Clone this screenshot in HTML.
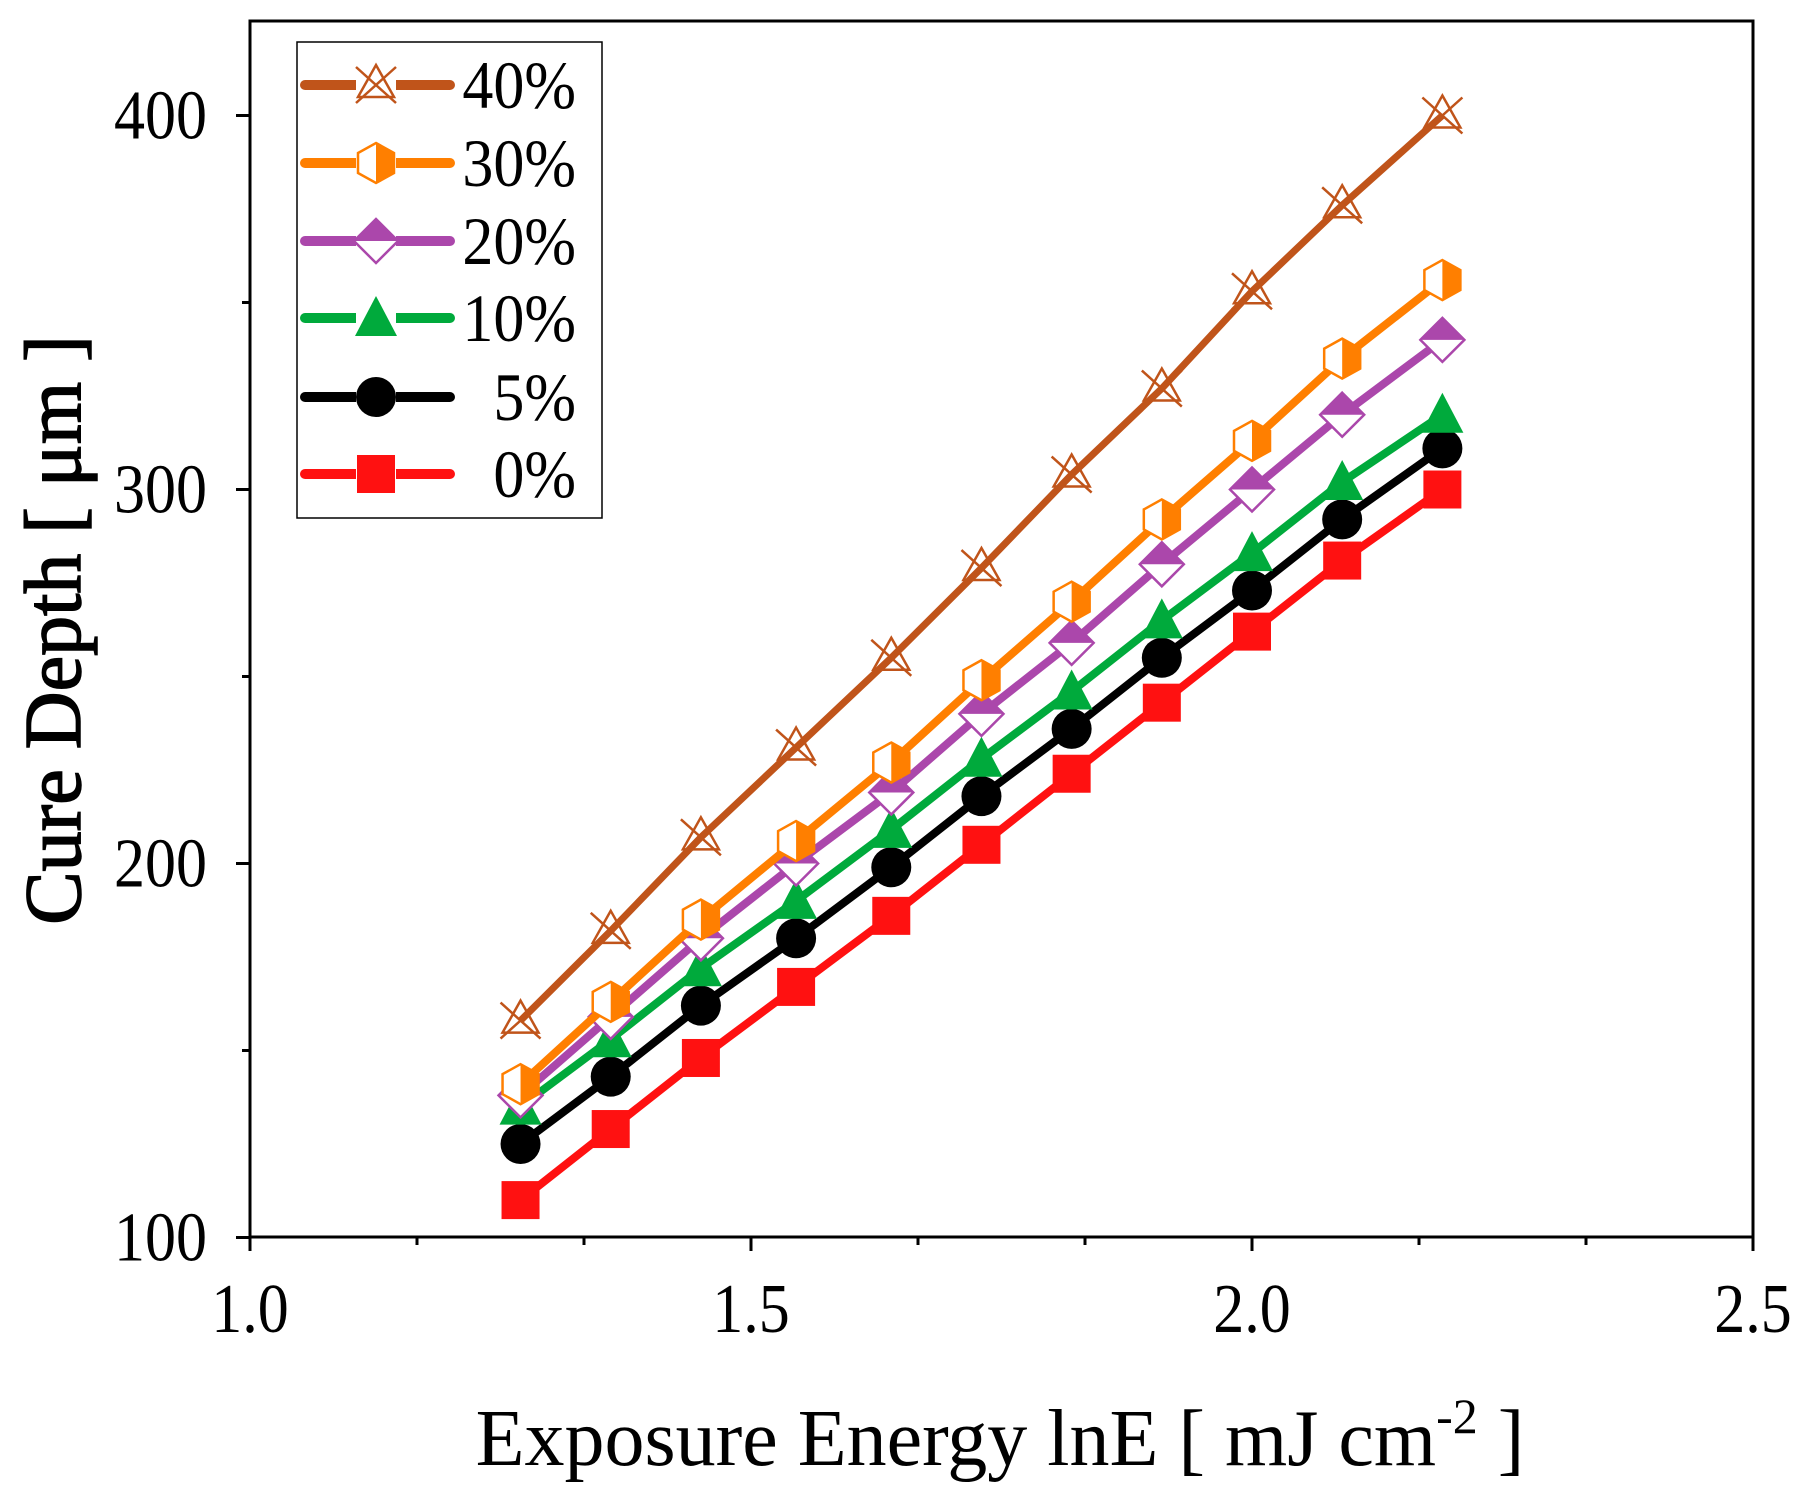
<!DOCTYPE html>
<html><head><meta charset="utf-8"><style>
html,body{margin:0;padding:0;background:#fff}
svg{display:block;font-family:"Liberation Serif",serif}
</style></head><body>
<svg id="chart" width="1805" height="1497" viewBox="0 0 1805 1497" xmlns="http://www.w3.org/2000/svg">
<rect x="0" y="0" width="1805" height="1497" fill="#fff"/>
<g id="plot"></g>
<g id="axes"></g>
<g id="legend"></g>
</svg>
<script>
const xValues = [1.27,1.36,1.45,1.545,1.64,1.73,1.82,1.91,2.0,2.09,2.19];
const s40 = [158,182,207,231,255,279,304,327,353,376,400];
const s30 = [141,163,185,206,227,249,270,292,313,335,356];
const s20 = [138,159,180,200,219,240,259,280,300,320,340];
const s10 = [135,153,172,190,209,228,246,265,283,302,320];
const s5 = [125,143,162,180,199,218,236,255,273,292,311];
const s0 = [110,129,148,167,186,205,224,243,262,281,300];
const seriesNames = ["40%","30%","20%","10%","5%","0%"];
const xTicks = [1.0,1.5,2.0,2.5];
const xTickLabels = ["1.0","1.5","2.0","2.5"];
const yTicks = [100,200,300,400];
const yTickLabels = ["100","200","300","400"];

const NS="http://www.w3.org/2000/svg";
const L=250,R=1753,T=21,B=1237;
const X=v=>L+(v-1.0)/1.5*(R-L);
const Y=v=>1237.5-(v-100)*3.74;
function mk(tag,attrs,parent){const e=document.createElementNS(NS,tag);for(const k in attrs)e.setAttribute(k,attrs[k]);parent.appendChild(e);return e;}
const plot=document.getElementById('plot'),axes=document.getElementById('axes'),leg=document.getElementById('legend');

const styles=[
 {data:s40,color:"#c0541a",w:7,m:"cross"},
 {data:s30,color:"#ff7f00",w:8,m:"hex"},
 {data:s20,color:"#ab47ab",w:8,m:"diamond"},
 {data:s10,color:"#00aa3c",w:8,m:"tri"},
 {data:s5,color:"#000000",w:8,m:"circle"},
 {data:s0,color:"#ff1111",w:8,m:"square"}];

function marker(g,type,cx,cy,c){
 const r=20;
 if(type==="cross"){
  mk('polygon',{points:`${cx},${cy-r} ${cx+r*0.9},${cy+r*0.6} ${cx-r*0.9},${cy+r*0.6}`,fill:'#fff','fill-opacity':0,stroke:c,'stroke-width':2.5},g);
  mk('line',{x1:cx-r,y1:cy-r*0.9,x2:cx+r,y2:cy+r*0.9,stroke:c,'stroke-width':2.5},g);
  mk('line',{x1:cx+r,y1:cy-r*0.9,x2:cx-r,y2:cy+r*0.9,stroke:c,'stroke-width':2.5},g);
 } else if(type==="hex"){
  const h=r*0.9;
  mk('polygon',{points:`${cx},${cy-r} ${cx+h},${cy-r/2} ${cx+h},${cy+r/2} ${cx},${cy+r} ${cx-h},${cy+r/2} ${cx-h},${cy-r/2}`,fill:'#fff',stroke:c,'stroke-width':2.5},g);
  mk('polygon',{points:`${cx},${cy-r} ${cx+h},${cy-r/2} ${cx+h},${cy+r/2} ${cx},${cy+r}`,fill:c},g);
 } else if(type==="diamond"){
  mk('polygon',{points:`${cx},${cy-r*1.1} ${cx+r*1.1},${cy} ${cx},${cy+r*1.1} ${cx-r*1.1},${cy}`,fill:'#fff',stroke:c,'stroke-width':2.5},g);
  mk('polygon',{points:`${cx},${cy-r*1.1} ${cx+r*1.1},${cy} ${cx-r*1.1},${cy}`,fill:c},g);
 } else if(type==="tri"){
  mk('polygon',{points:`${cx},${cy-r*1.1} ${cx+r*1.05},${cy+r*0.9} ${cx-r*1.05},${cy+r*0.9}`,fill:c},g);
 } else if(type==="circle"){
  mk('circle',{cx:cx,cy:cy,r:r,fill:c},g);
 } else {
  mk('rect',{x:cx-r*0.95,y:cy-r*0.95,width:r*1.9,height:r*1.9,fill:c},g);
 }
}

for(let i=styles.length-1;i>=0;i--){
 const st=styles[i];
 const g=mk('g',{},plot);
 
 
 const pts=st.data.map((v,j)=>X(xValues[j])+','+Y(v)).join(' ');
 const pl=mk('polyline',{points:pts,fill:'none',stroke:st.color,'stroke-width':st.w,'stroke-linejoin':'round'},g);
 
 
 st.data.forEach((v,j)=>{
  const mg=mk('g',{},g);
  
  
  marker(mg,st.m,X(xValues[j]),Y(v),st.color);
 });
}

const fr=mk('rect',{x:L,y:T,width:R-L,height:B-T,fill:'none',stroke:'#000','stroke-width':3},axes);


xTicks.forEach((v,i)=>{
 mk('line',{x1:X(v),y1:B,x2:X(v),y2:B+14,stroke:'#000','stroke-width':3},axes);
 if(i<xTicks.length-1){for(let k=1;k<3;k++){const mv=v+k*(xTicks[1]-xTicks[0])/3;mk('line',{x1:X(mv),y1:B,x2:X(mv),y2:B+8,stroke:'#000','stroke-width':3},axes);}}
 const t=mk('text',{x:X(v),y:0,'font-size':62,'text-anchor':'middle',transform:`translate(0,1332) scale(1,1.12)`},axes);
 t.textContent=xTickLabels[i];
 
 
});
yTicks.forEach((v,i)=>{
 mk('line',{x1:L-14,y1:Y(v),x2:L,y2:Y(v),stroke:'#000','stroke-width':3},axes);
 if(i<yTicks.length-1){const mv=v+50;mk('line',{x1:L-8,y1:Y(mv),x2:L,y2:Y(mv),stroke:'#000','stroke-width':3},axes);}
 const t=mk('text',{x:0,y:0,'font-size':62,'text-anchor':'end',transform:`translate(207,${Y(v)+23}) scale(1,1.12)`},axes);
 t.textContent=yTickLabels[i];
 
 
});
const yt=mk('text',{x:0,y:0,'font-size':80,'text-anchor':'middle',stroke:'#000','stroke-width':1.5,transform:'translate(80,630) rotate(-90)'},axes);
yt.textContent='Cure Depth [ μm ]';


const xt=mk('text',{x:1000,y:1465,'font-size':80,'text-anchor':'middle'},axes);
xt.innerHTML='Exposure Energy lnE [ mJ cm<tspan dy="-32" font-size="50">-2</tspan><tspan dy="32"> ]</tspan>';



const lb=mk('rect',{x:297,y:42,width:305,height:476,fill:'#fff',stroke:'#000','stroke-width':1.5},leg);


const rows=[85,163,241,318,397,474];
styles.forEach((st,i)=>{
 const g=mk('g',{},leg);
 
 
 const y=rows[i];
 mk('line',{x1:305,y1:y,x2:450,y2:y,stroke:st.color,'stroke-width':10,'stroke-linecap':'round'},g);
 mk('rect',{x:356,y:y-16,width:40,height:32,fill:'#fff'},g);
 marker(g,st.m,376,y,st.color);
 const t=mk('text',{x:0,y:0,'font-size':62,'text-anchor':'end',transform:`translate(576,${y+23}) scale(1,1.1)`},g);
 t.textContent=seriesNames[i];
});
</script>
</body></html>
